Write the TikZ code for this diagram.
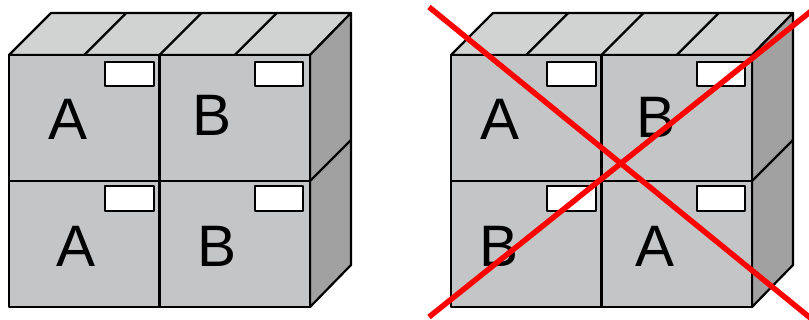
\documentclass[tikz,border=0pt]{standalone}
\usepackage{fontspec}
\setmainfont{Liberation Sans}
\definecolor{frontgray}{RGB}{196,197,199}
\definecolor{topgray}{RGB}{209,211,211}
\definecolor{sidegray}{RGB}{161,161,161}
\definecolor{crossred}{RGB}{255,0,0}
\begin{document}
\begin{tikzpicture}[x=1pt,y=-1pt,
  edge/.style={draw=black,line width=2.2pt,line join=round},
  frontface/.style={edge,fill=frontgray},
  topface/.style={edge,fill=topgray},
  sideface/.style={edge,fill=sidegray},
  tag/.style={edge,fill=white},
  letter/.style={anchor=base,inner sep=0pt,font=\fontsize{58.5}{60}\selectfont},
  cross/.style={draw=crossred,line width=5.5pt}]
\useasboundingbox (0,0) rectangle (809,320);
\clip (0,0) rectangle (809,320);

% shared crate-stack body: top, side and front faces with address tags
\newcommand\cratestack{%
  \filldraw[topface] (9,55) -- (51,13) -- (351,13) -- (310,55) -- cycle;
  \foreach \i in {1,2,3} \draw[edge] ({9+75.25*\i},55) -- ++(42,-42);
  \filldraw[sideface] (310,55) -- (351,13) -- (351,265) -- (310,307) -- cycle;
  \draw[edge] (310,181) -- (351,140);
  \filldraw[frontface] (9,55) rectangle (310,307);
  \draw[edge] (159.5,55) -- (159.5,307);
  \draw[edge] (9,181) -- (310,181);
  \filldraw[tag] (105,62) rectangle (154,86);
  \filldraw[tag] (255,62) rectangle (303,86);
  \filldraw[tag] (105,186) rectangle (154,211);
  \filldraw[tag] (255,186) rectangle (303,211);
}

% correct stacking
\begin{scope}
  \cratestack
  \node[letter] (good-tl) at (68,140) {A};
  \node[letter] (good-tr) at (212,136) {B};
  \node[letter] (good-bl) at (76,267) {A};
  \node[letter] (good-br) at (217,267) {B};
\end{scope}

% wrong stacking
\begin{scope}[xshift=442pt]
  \cratestack
  \node[letter] (bad-tl) at (58,140) {A};
  \node[letter] (bad-tr) at (214,138) {B};
  \node[letter] (bad-bl) at (57,267) {B};
  \node[letter] (bad-br) at (213,267) {A};
\end{scope}

% red cross over the wrong stacking
\coordinate (x1a) at (429,7);
\coordinate (x1b) at (830,334);
\coordinate (x2a) at (429,317);
\coordinate (x2b) at (830,-4);
\draw[cross] (x1a) -- (x1b);
\draw[cross] (x2a) -- (x2b);
\end{tikzpicture}
\end{document}
